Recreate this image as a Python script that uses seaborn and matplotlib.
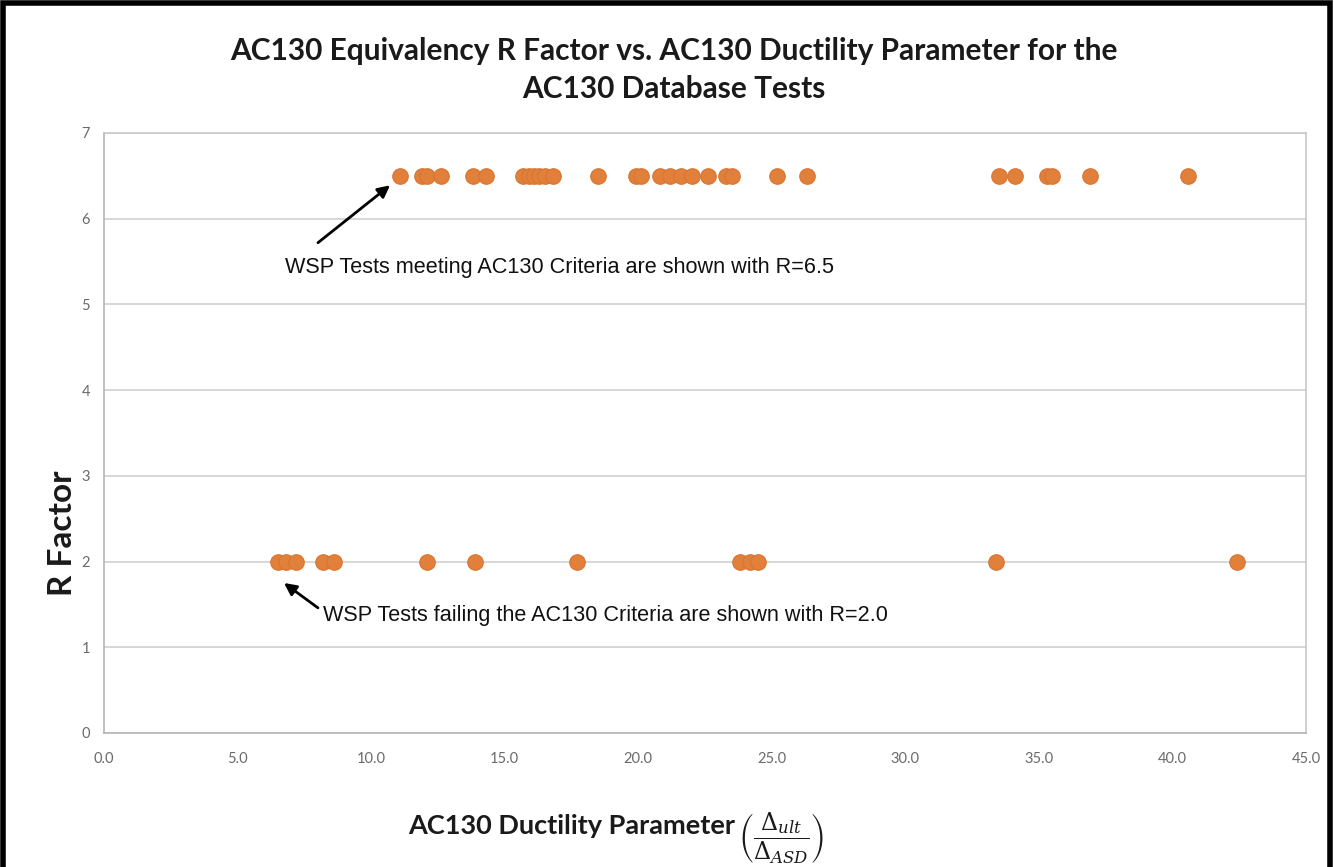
import matplotlib
matplotlib.use("Agg")
import matplotlib.pyplot as plt
import seaborn as sns
import pandas as pd
from matplotlib.patches import Rectangle

# ---- data ----
pass_x = [11.1, 11.9, 12.1, 12.6, 13.8, 14.3, 15.7, 15.9, 16.1, 16.3, 16.5, 16.8,
          18.5, 19.9, 20.1, 20.8, 21.2, 21.6, 22.0, 22.6, 23.3, 23.5, 25.2, 26.3,
          33.5, 34.1, 35.3, 35.5, 36.9, 40.6]
pass_r = [6.5] * len(pass_x)
fail_x = [6.5, 6.8, 7.2, 8.2, 8.6, 12.1, 13.9, 17.7, 23.8, 24.2, 24.5, 33.4, 42.4]
fail_r = [2.0] * len(fail_x)
x_ticks = [0, 5, 10, 15, 20, 25, 30, 35, 40, 45]
y_ticks = [0, 1, 2, 3, 4, 5, 6, 7]

title = "AC130 Equivalency R Factor vs. AC130 Ductility Parameter for the\nAC130 Database Tests"
note_pass = "WSP Tests meeting AC130 Criteria are shown with R=6.5"
note_fail = "WSP Tests failing the AC130 Criteria are shown with R=2.0"

df = pd.DataFrame({"x": pass_x + fail_x, "R": pass_r + fail_r})

sns.set_style("white")
plt.rcParams["font.family"] = ["Lato", "DejaVu Sans"]
plt.rcParams["mathtext.fontset"] = "dejavuserif"

fig = plt.figure(figsize=(13.34, 8.67), dpi=100)
ax = fig.add_axes([104 / 1334, 1 - 733 / 867, (1306 - 104) / 1334, (733 - 133) / 867])

sns.scatterplot(data=df, x="x", y="R", ax=ax, color="#E0803A", s=125,
                edgecolor="#D97532", linewidth=0.8, zorder=3, legend=False)

ax.set_xlim(0, 45)
ax.set_ylim(0, 7)
ax.set_xticks(x_ticks)
ax.set_xticklabels([f"{v:.1f}" for v in x_ticks])
ax.set_yticks(y_ticks)
ax.set_yticklabels([str(v) for v in y_ticks])
ax.tick_params(axis="both", colors="#8a8a8a", labelcolor="#6a6a6a", labelsize=10.5,
               length=6, width=1, direction="out")
ax.tick_params(axis="x", pad=8)
ax.tick_params(axis="y", pad=4)
ax.grid(axis="y", color="#d0d0d0", linewidth=1.2)
ax.set_axisbelow(True)
for side in ["left", "bottom"]:
    ax.spines[side].set_color("#b5b5b5")
    ax.spines[side].set_linewidth(1.2)
for side in ["right", "top"]:
    ax.spines[side].set_visible(True)
    ax.spines[side].set_color("#c8c8c8")
    ax.spines[side].set_linewidth(1.2)

ax.set_xlabel("")
ax.set_ylabel("")
fig.text(63 / 1334, 1 - 533 / 867, "R Factor", rotation=90, ha="center", va="center",
         fontsize=24, fontweight="bold", color="#1a1a1a")

fig.text(0.505, 1 - 70 / 867, title, ha="center", va="center", fontsize=21.5,
         fontweight="bold", color="#1a1a1a", linespacing=1.45)

fig.text(572 / 1334, 1 - 826 / 867, "AC130 Ductility Parameter", ha="center", va="center",
         fontsize=19.5, fontweight="bold", color="#1a1a1a")
fig.text(781 / 1334, 1 - 838 / 867,
         r"$\left(\dfrac{\Delta_{ult}}{\Delta_{ASD}}\right)$", ha="center", va="center",
         fontsize=17, color="#1a1a1a")

note_font = ["Liberation Sans Narrow", "Liberation Sans", "DejaVu Sans"]
ax.text(6.78, 5.43, note_pass, fontsize=15.6, color="#111111", family=note_font,
        ha="left", va="center")
ax.annotate("", xy=(10.71, 6.39), xytext=(8.01, 5.72), textcoords="data",
            arrowprops=dict(arrowstyle="-|>", color="black", lw=2,
                            mutation_scale=18, shrinkA=0, shrinkB=0))
ax.text(8.2, 1.365, note_fail, fontsize=15.6, color="#111111", family=note_font,
        ha="left", va="center")
ax.annotate("", xy=(6.74, 1.75), xytext=(8.01, 1.46), textcoords="data",
            arrowprops=dict(arrowstyle="-|>", color="black", lw=2,
                            mutation_scale=18, shrinkA=0, shrinkB=0))

# outer frame
fig.patches.append(Rectangle((0.002, -0.01), 0.995, 1.006, transform=fig.transFigure,
                             fill=False, edgecolor="black", linewidth=4, zorder=10))

fig.savefig("out.png", dpi=100, facecolor="white")
